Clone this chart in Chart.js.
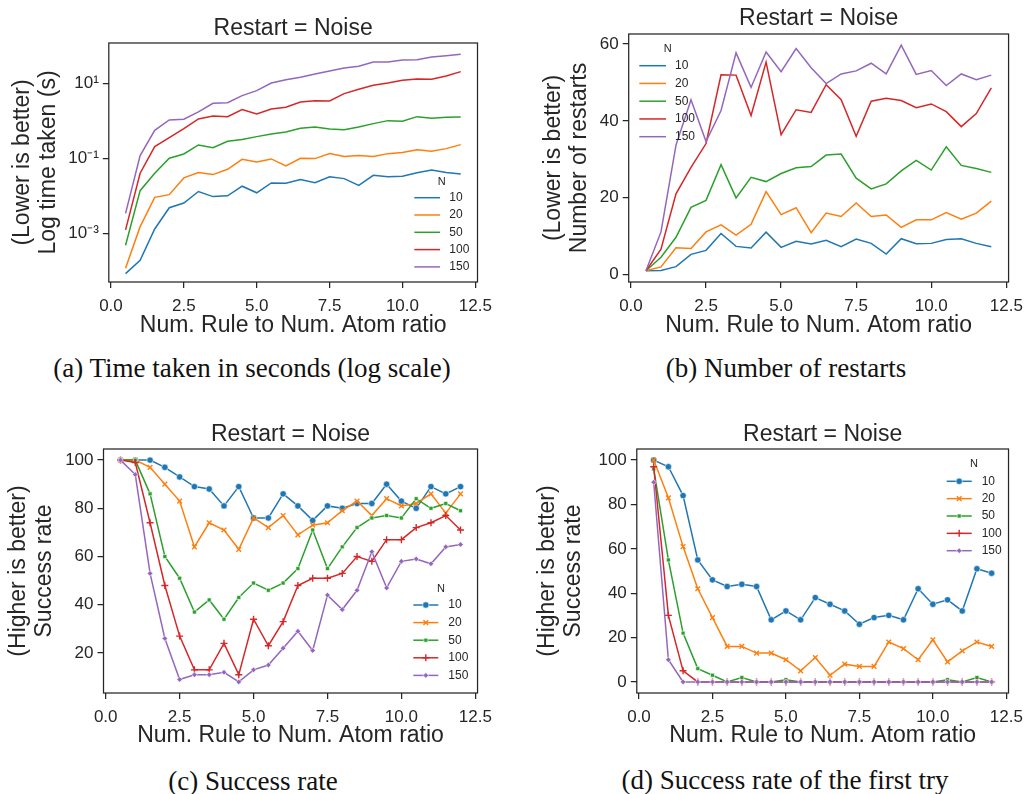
<!DOCTYPE html>
<html>
<head>
<meta charset="utf-8">
<script src="https://cdn.jsdelivr.net/npm/chart.js@4.4.1/dist/chart.umd.min.js"></script>
<style>
  body { margin: 0; background: #fff; }
  #fig { position: relative; width: 1031px; height: 794px; background: #fff; }
  #fig canvas { position: absolute; }
  .cap { position: absolute; width: 500px; height: 30px; line-height: 30px; text-align: center;
         font-family: "Liberation Serif", "DejaVu Serif", serif; font-size: 27px; color: #111; white-space: nowrap; }
</style>
</head>
<body>
<div id="fig">
  <canvas id="timeChart" width="500" height="350" style="left:0px;top:0px"></canvas>
  <canvas id="restartChart" width="501" height="350" style="left:530px;top:0px"></canvas>
  <canvas id="successChart" width="500" height="350" style="left:0px;top:400px"></canvas>
  <canvas id="firstChart" width="501" height="350" style="left:530px;top:400px"></canvas>
  <div class="cap" style="left:2px;top:353px">(a) Time taken in seconds (log scale)</div>
  <div class="cap" style="left:536px;top:353px">(b) Number of restarts</div>
  <div class="cap" style="left:3px;top:766px">(c) Success rate</div>
  <div class="cap" style="left:535px;top:765px">(d) Success rate of the first try</div>
</div>
<script>
// x values: rule / atom ratio
const ratios = [0.5, 1, 1.5, 2, 2.5, 3, 3.5, 4, 4.5, 5, 5.5, 6, 6.5, 7, 7.5, 8, 8.5, 9, 9.5, 10, 10.5, 11, 11.5, 12];
const nLabels = ['10', '20', '50', '100', '150'];

// (a) time taken (s), log scale
const timeN10 = [8.4e-5, 1.9e-4, 1.3e-3, 4.8e-3, 6.4e-3, 0.013, 0.0095, 0.010, 0.018, 0.012, 0.022, 0.0215, 0.027, 0.0224, 0.032, 0.0287, 0.019, 0.035, 0.032, 0.033, 0.041, 0.049, 0.0415, 0.038];
const timeN20 = [1.17e-4, 1.5e-3, 9.1e-3, 0.0107, 0.030, 0.0415, 0.0367, 0.051, 0.094, 0.080, 0.096, 0.0625, 0.100, 0.098, 0.133, 0.111, 0.118, 0.111, 0.133, 0.142, 0.170, 0.154, 0.181, 0.231];
const timeN50 = [4.8e-4, 0.0137, 0.040, 0.100, 0.130, 0.227, 0.192, 0.284, 0.315, 0.378, 0.446, 0.504, 0.631, 0.685, 0.606, 0.581, 0.685, 0.84, 1.01, 0.97, 1.29, 1.17, 1.24, 1.26];
const timeN100 = [1.23e-3, 0.040, 0.205, 0.356, 0.618, 1.12, 1.35, 1.29, 1.99, 1.52, 2.07, 2.29, 3.18, 3.45, 3.38, 5.3, 6.92, 8.85, 10.2, 12.0, 13.1, 12.8, 15.7, 20.5];
const timeN150 = [3.4e-3, 0.118, 0.558, 1.05, 1.10, 1.72, 2.93, 3.05, 4.69, 6.37, 10.2, 12.5, 14.5, 17.7, 21.3, 25.6, 28.4, 37.1, 37.1, 41.9, 42.8, 50.4, 54.7, 59.3];

// (b) number of restarts
const restartN10 = [1.0, 1.04, 2.07, 5.27, 6.3, 10.7, 7.34, 6.9, 11.05, 7.08, 8.64, 7.94, 8.9, 7.25, 9.24, 8.12, 5.35, 9.33, 8.03, 8.12, 9.15, 9.33, 8.12, 7.25];
const restartN20 = [1, 2.0, 7.0, 6.8, 11.1, 12.95, 10.3, 13.1, 21.6, 15.6, 17.4, 10.9, 16.0, 15.1, 18.65, 15.1, 15.5, 12.3, 14.25, 14.25, 16.15, 14.4, 16.0, 19.1];
const restartN50 = [1, 4.5, 9.7, 17.5, 19.3, 28.6, 19.95, 25.3, 24.2, 26.3, 27.8, 28.1, 31.1, 31.35, 25.1, 22.3, 23.6, 27.0, 29.7, 27.2, 33.25, 28.4, 27.6, 26.6];
const restartN100 = [1, 6.6, 21.0, 27.9, 34.1, 52.0, 51.9, 41.4, 55.3, 36.4, 42.9, 42.2, 49.4, 45.5, 36.0, 45.1, 45.85, 45.3, 43.4, 44.4, 42.4, 38.5, 41.9, 48.6];
const restartN150 = [1, 11.1, 33.7, 45.5, 34.6, 42.7, 57.7, 48.7, 57.9, 52.8, 58.8, 53.8, 49.7, 52.2, 53.0, 55.0, 52.2, 59.7, 52.1, 53.1, 49.2, 52.2, 50.7, 51.9];

// (c) success rate
const successN10 = [100, 100, 100, 97, 93, 89, 88, 81, 89, 76, 76, 86, 81, 75, 81, 80, 82, 82, 90, 83, 80, 89, 86, 89];
const successN20 = [100, 100, 97, 90, 83, 64, 74, 71, 63, 76, 72, 77, 69, 73, 74, 79, 83, 77, 84, 81, 82, 86, 78, 86];
const successN50 = [100, 100, 86, 60, 51, 37, 42, 34, 43, 49, 46, 49, 55, 71, 55, 64, 72, 76, 77, 76, 84, 80, 82, 79];
const successN100 = [100, 99, 74, 48, 27, 13, 13, 24, 11, 34, 23, 33, 48, 51, 51, 53, 60, 58, 67, 67, 72, 74, 77, 71];
const successN150 = [100, 94, 53, 26, 9, 11, 11, 12, 8, 13, 15, 22, 29, 21, 44, 38, 46, 62, 47, 58, 59, 57, 64, 65];

// (d) success rate of the first try
const firstN10 = [100, 97, 84, 55, 46, 43, 44, 43, 28, 32, 28, 38, 35, 32, 26, 29, 30, 28, 42, 35, 37, 32, 51, 49];
const firstN20 = [100, 83, 61, 42, 29, 16, 16, 13, 13, 10, 5, 11, 3, 8, 7, 7, 18, 15, 10, 19, 9, 14, 18, 16];
const firstN50 = [96, 55, 22, 6, 3, 0, 2, 0, 0, 1, 0, 0, 0, 0, 0, 0, 0, 0, 0, 0, 1, 0, 2, 0];
const firstN100 = [97, 30, 5, 0, 0, 0, 0, 0, 0, 0, 0, 0, 0, 0, 0, 0, 0, 0, 0, 0, 0, 0, 0, 0];
const firstN150 = [90, 10, 0, 0, 0, 0, 0, 0, 0, 0, 0, 0, 0, 0, 0, 0, 0, 0, 0, 0, 0, 0, 0, 0];

// tick labels
const xTickValues = [0, 2.5, 5, 7.5, 10, 12.5];
const logTickValues = [1e-3, 1e-1, 1e1];
const logTickLabels = ['10\u207B\u00B3', '10\u207B\u00B9', '10\u00B9'];
const restartTicks = [0, 20, 40, 60];
const successTicks = [20, 40, 60, 80, 100];
const firstTicks = [0, 20, 40, 60, 80, 100];

// styles
const colors = ['#1f77b4', '#ff7f0e', '#2ca02c', '#d62728', '#9467bd'];
const markerStyles = ['circle', 'crossRot', 'rect', 'cross', 'rectRot'];
const markerSizes = [3.2, 3.3, 2.8, 3.5, 2.8];
const ink = '#262626';
const sans = '"Liberation Sans", Arial, sans-serif';

Chart.defaults.font.family = sans;
Chart.defaults.color = ink;

const series = (vals, i, marked) => {
  const ds = {
    label: nLabels[i],
    data: ratios.map((x, k) => ({x: x, y: vals[k]})),
    borderColor: colors[i],
    backgroundColor: colors[i],
    borderWidth: 1.5,
    pointRadius: 0,
    order: 5 - i //last N drawn on top
  };
  if (marked) {
    const stroked = markerStyles[i] === 'cross' || markerStyles[i] === 'crossRot';
    ds.pointStyle = markerStyles[i];
    ds.pointRadius = markerSizes[i];
    ds.pointBackgroundColor = colors[i];
    ds.pointBorderColor = stroked ? colors[i] : '#ffffff';
    ds.pointBorderWidth = stroked ? 1.4 : 0.6;
  }
  return ds;
};

// box round the plot area (top / right spines too)
const framePlugin = {
  id: 'frame',
  afterDatasetsDraw(chart) {
    const {ctx, chartArea: a} = chart;
    ctx.save();
    ctx.strokeStyle = ink;
    ctx.lineWidth = 1.25;
    ctx.strokeRect(a.left, a.top, a.right - a.left, a.bottom - a.top);
    ctx.restore();
  }
};

// seaborn style legend with the "N" title, drawn inside the axes
const nLegendPlugin = {
  id: 'nLegend',
  afterDraw(chart, args, o) {
    const ctx = chart.ctx;
    ctx.save();
    ctx.fillStyle = ink;
    ctx.textBaseline = 'middle';
    ctx.textAlign = 'center';
    ctx.font = '11px ' + sans;
    ctx.fillText('N', o.titleX, o.titleY);
    chart.data.datasets.forEach((ds, i) => {
      const y = o.rowY + i * o.rowGap;
      ctx.strokeStyle = ds.borderColor;
      ctx.lineWidth = ds.borderWidth;
      ctx.beginPath();
      ctx.moveTo(o.lineX, y);
      ctx.lineTo(o.lineX + o.lineLen, y);
      ctx.stroke();
      if (ds.pointRadius > 0 && Chart.helpers && Chart.helpers.drawPoint) {
        ctx.fillStyle = ds.pointBackgroundColor;
        ctx.strokeStyle = ds.pointBorderColor;
        ctx.lineWidth = ds.pointBorderWidth;
        Chart.helpers.drawPoint(ctx, {pointStyle: ds.pointStyle, radius: ds.pointRadius, borderWidth: ds.pointBorderWidth, rotation: 0}, o.lineX + o.lineLen / 2, y);
      }
      ctx.fillStyle = ink;
      ctx.textAlign = 'left';
      ctx.font = '12px ' + sans;
      ctx.fillText(ds.label, o.textX, y);
    });
    ctx.restore();
  }
};

const tickGrid = {display: true, drawOnChartArea: false, drawTicks: true, tickLength: 6, color: ink, lineWidth: 1.25};

const makePanel = (id, p) => {
  return new Chart(document.getElementById(id), {
    type: 'line',
    data: {datasets: p.datasets},
    plugins: [framePlugin, nLegendPlugin],
    options: {
      responsive: false,
      animation: false,
      devicePixelRatio: 1,
      layout: {padding: {left: 0, right: p.padRight, top: 0, bottom: 0}},
      plugins: {
        legend: {display: false},
        tooltip: {enabled: false},
        title: {display: true, fullSize: false, text: 'Restart = Noise', color: ink, font: {size: 23, weight: 'normal'}, padding: {top: p.titleTop, bottom: p.titleBottom}},
        nLegend: p.legend
      },
      scales: {
        x: {
          type: 'linear', min: -0.075, max: 12.575,
          afterBuildTicks: s => { s.ticks = xTickValues.map(v => ({value: v})); },
          afterFit: s => { s.height = p.xAxisH; },
          ticks: {callback: v => Number(v).toFixed(1), font: {size: 17}, color: ink, padding: 8, maxRotation: 0, autoSkip: false},
          grid: tickGrid,
          border: {display: false},
          title: {display: true, text: 'Num. Rule to Num. Atom ratio', color: ink, font: {size: 23}, padding: {top: 0, bottom: p.xTitleBottom}}
        },
        y: Object.assign({
          afterFit: s => { s.width = p.yAxisW; },
          grid: tickGrid,
          border: {display: false},
          title: {display: true, text: p.yTitle, color: ink, font: {size: 23, lineHeight: 1.12}, padding: {top: p.yTitleTop, bottom: 0}}
        }, p.y)
      }
    }
  });
};

// (a)
makePanel('timeChart', {
  datasets: [timeN10, timeN20, timeN50, timeN100, timeN150].map((v, i) => series(v, i, false)),
  padRight: 20.1, titleTop: 14.9, titleBottom: 0.5, xAxisH: 68, xTitleBottom: 10.2, yAxisW: 108.8, yTitleTop: 10,
  yTitle: ['(Lower is better)', 'Log time taken (s)'],
  y: {
    type: 'logarithmic', min: Math.pow(10, -4.3), max: Math.pow(10, 2.075),
    afterBuildTicks: s => { s.ticks = logTickValues.map(v => ({value: v})); },
    ticks: {callback: v => logTickLabels[logTickValues.indexOf(v)], font: {size: 17}, color: ink, padding: 4, autoSkip: false}
  },
  legend: {titleX: 441.7, titleY: 181.7, lineX: 414.3, lineLen: 25.7, textX: 449.3, rowY: 197.7, rowGap: 17.3}
});

// (b)
makePanel('restartChart', {
  datasets: [restartN10, restartN20, restartN50, restartN100, restartN150].map((v, i) => series(v, i, false)),
  padRight: 19.5, titleTop: 4.5, titleBottom: 1.9, xAxisH: 68, xTitleBottom: 10.2, yAxisW: 98.7, yTitleTop: 11,
  yTitle: ['(Lower is better)', 'Number of restarts'],
  y: {
    type: 'linear', min: -1.93, max: 62.6,
    afterBuildTicks: s => { s.ticks = restartTicks.map(v => ({value: v})); },
    ticks: {font: {size: 17}, color: ink, padding: 4, autoSkip: false}
  },
  legend: {titleX: 137.7, titleY: 49.3, lineX: 109.3, lineLen: 26.7, textX: 145, rowY: 65.7, rowGap: 17.75}
});

// (c)
makePanel('successChart', {
  datasets: [successN10, successN20, successN50, successN100, successN150].map((v, i) => series(v, i, true)),
  padRight: 20, titleTop: 21.2, titleBottom: 0.2, xAxisH: 57, xTitleBottom: 0.9, yAxisW: 103.5, yTitleTop: 6,
  yTitle: ['(Higher is better)', 'Success rate'],
  y: {
    type: 'linear', min: 3.4, max: 104.6,
    afterBuildTicks: s => { s.ticks = successTicks.map(v => ({value: v})); },
    ticks: {font: {size: 17}, color: ink, padding: 4, autoSkip: false}
  },
  legend: {titleX: 441, titleY: 189, lineX: 413.3, lineLen: 25, textX: 448.3, rowY: 205, rowGap: 17.6}
});

// (d)
makePanel('firstChart', {
  datasets: [firstN10, firstN20, firstN50, firstN100, firstN150].map((v, i) => series(v, i, true)),
  padRight: 17.5, titleTop: 21.2, titleBottom: 0.2, xAxisH: 57, xTitleBottom: 0.9, yAxisW: 106.8, yTitleTop: 5,
  yTitle: ['(Higher is better)', 'Success rate'],
  y: {
    type: 'linear', min: -5, max: 105,
    afterBuildTicks: s => { s.ticks = firstTicks.map(v => ({value: v})); },
    ticks: {font: {size: 17}, color: ink, padding: 4, autoSkip: false}
  },
  legend: {titleX: 444, titleY: 64.3, lineX: 416.7, lineLen: 25, textX: 451.7, rowY: 81.3, rowGap: 17.35}
});
</script>
</body>
</html>
